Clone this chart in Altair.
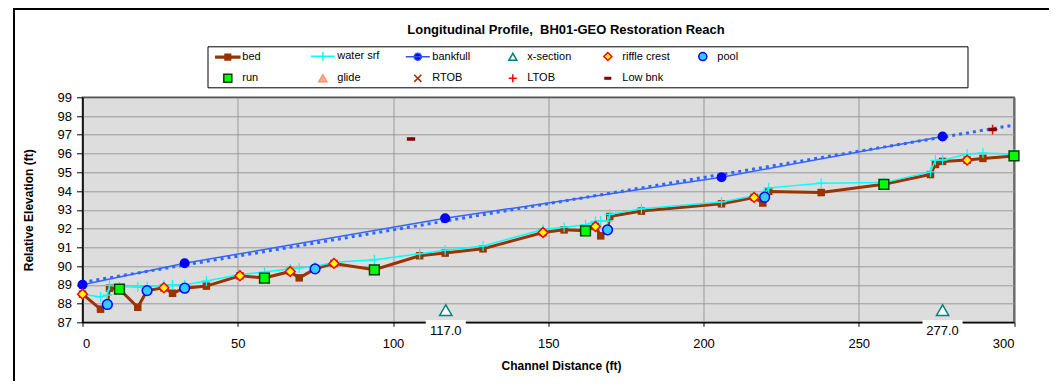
import altair as alt
import pandas as pd

FONT = "Liberation Sans, Arial, Helvetica, sans-serif"
TITLE = "Longitudinal Profile,\u00a0 BH01-GEO Restoration Reach"

# ---- data ----
bed_x = [0, 5.8, 8.0, 8.7, 11.9, 17.8, 20.8, 26.2, 29.0, 32.9, 39.9, 50.7, 58.6, 66.9,
         69.8, 74.9, 81.0, 94.0, 108.6, 116.8, 129.0, 148.3, 155.1, 162.0, 165.2, 166.9,
         169.1, 169.8, 180.0, 205.8, 216.3, 219.1, 219.7, 221.0, 237.9, 258.1, 273.1,
         274.7, 277.0, 284.9, 290.0, 300.0]
bed_y = [88.5, 87.7, 87.95, 88.82, 88.77, 87.8, 88.69, 88.84, 88.55, 88.82, 88.93, 89.48,
         89.36, 89.71, 89.37, 89.85, 90.14, 89.8, 90.55, 90.69, 90.92, 91.79, 91.93, 91.88,
         92.11, 91.61, 91.93, 92.64, 92.93, 93.32, 93.66, 93.36, 93.67, 93.98, 93.92, 94.36,
         94.88, 95.42, 95.58, 95.65, 95.74, 95.87]

water_x = bed_x
water_y = [88.5, 88.35, 88.45, 88.97, 88.9, 88.88, 88.9, 88.98, 89.0, 89.0, 89.2, 89.55,
           89.68, 89.85, 89.9, 89.98, 90.2, 90.33, 90.66, 90.84, 91.07, 91.95, 92.07, 92.2,
           92.38, 92.4, 92.4, 92.76, 93.05, 93.42, 93.75, 93.8, 93.85, 94.17, 94.42, 94.45,
           95.02, 95.64, 95.65, 95.98, 96.03, 95.96]

bank_x = [0, 32.9, 116.8, 205.8, 277.0]
bank_y = [89.0, 90.15, 92.55, 94.74, 96.91]

xsec_x = [117.0, 277.0]
xsec_y = [87.65, 87.65]

riffle_x = [0, 26.2, 50.7, 66.9, 81.0, 148.3, 165.2, 216.3, 284.9]
riffle_y = [88.5, 88.84, 89.48, 89.71, 90.14, 91.79, 92.11, 93.66, 95.65]

pool_x = [8.0, 20.8, 32.9, 74.9, 169.1, 219.7]
pool_y = [87.95, 88.69, 88.82, 89.85, 91.93, 93.67]

run_x = [11.9, 58.6, 94.0, 162.0, 258.1, 300.0]
run_y = [88.77, 89.36, 89.8, 91.88, 94.36, 95.87]

ltob_x = [293.1]
ltob_y = [97.28]

lowbnk_x = [105.8, 293.1]
lowbnk_y = [96.78, 97.28]

x_ticks = [0, 50, 100, 150, 200, 250, 300]
y_ticks = list(range(87, 100))

# legend entries and their styles
LEG_DOMAIN = ["bed", "water srf", "bankfull", "x-section", "riffle crest", "pool",
              "run", "glide", "RTOB", "LTOB", "Low bnk"]
LEG_SHAPE = [
    "M-3,-0.2H3V0.2H-3Z M-0.7,-0.7H0.7V0.7H-0.7Z",
    "M-3,0H3 M0,-1.1V1.1",
    "M-3,0H3 M-0.9,0A0.9,0.9 0 1,1 0.9,0A0.9,0.9 0 1,1 -0.9,0Z",
    "triangle-up",
    "diamond",
    "circle",
    "square",
    "triangle-up",
    "M-0.9,-0.9L0.9,0.9M-0.9,0.9L0.9,-0.9",
    "M-1,0H1M0,-1V1",
    "M-0.7,-0.2H0.7V0.2H-0.7Z",
]
LEG_FILL = ["#993300", "#00FFFF", "#0000FF", "#FFFFFF", "#FFFF00", "#33CCFF",
            "#00FF00", "#FFB49C", "#993300", "#FF0000", "#800000"]
LEG_STROKE = ["#993300", "#00FFFF", "#3050F0", "#008080", "#FF0000", "#0000FF",
              "#004000", "#FF8F70", "#993300", "#FF0000", "#800000"]

# ---- tables ----
bed_df = pd.DataFrame({"x": bed_x, "elev": bed_y})
water_df = pd.DataFrame({"x": water_x, "elev": water_y})
bank_df = pd.DataFrame({"x": bank_x, "elev": bank_y})
xsec_df = pd.DataFrame({"x": xsec_x, "elev": xsec_y, "series": "x-section"})
feat_df = pd.concat([
    pd.DataFrame({"x": riffle_x, "elev": riffle_y, "series": "riffle crest"}),
    pd.DataFrame({"x": pool_x, "elev": pool_y, "series": "pool"}),
    pd.DataFrame({"x": run_x, "elev": run_y, "series": "run"}),
    pd.DataFrame({"x": ltob_x, "elev": ltob_y, "series": "LTOB"}),
    pd.DataFrame({"x": lowbnk_x, "elev": lowbnk_y, "series": "Low bnk"}),
], ignore_index=True)
deco = pd.DataFrame({"k": [0]})

W, H = 931.5, 225

x_grid_color = {"condition": [{"test": "datum.value == 0", "value": "black"},
                              {"test": "datum.value == 300", "value": "#555555"}],
                "value": "#9a9a9a"}
y_grid_color = {"condition": [{"test": "datum.value == 87", "value": "black"},
                              {"test": "datum.value == 99", "value": "#555555"}],
                "value": "#9a9a9a"}

X = alt.X("x:Q", scale=alt.Scale(domain=[0, 300], nice=False, zero=False),
          axis=alt.Axis(values=x_ticks, title="Channel Distance (ft)", grid=True,
                        gridColor=x_grid_color,
                        tickSize=4, tickColor="black", domainColor="black",
                        labelFont=FONT, labelFontSize=13, labelColor="black", labelPadding=11,
                        titleFont=FONT, titleFontSize=12, titleFontWeight="bold", titleColor="black",
                        titleX=478.5, titleY=43, titleAlign="center", titleBaseline="middle"))
Y = alt.Y("elev:Q", scale=alt.Scale(domain=[87, 99], nice=False, zero=False),
          axis=alt.Axis(values=y_ticks, format="d", title="Relative Elevation (ft)", grid=True,
                        gridColor=y_grid_color,
                        tickSize=6, tickColor="black", domainColor="black",
                        labelFont=FONT, labelFontSize=13, labelColor="black", labelPadding=5,
                        titleFont=FONT, titleFontSize=12, titleFontWeight="bold", titleColor="black",
                        titleX=-54.5, titleY=112.5, titleAngle=270, titleAlign="center",
                        titleBaseline="middle"))

LEG = alt.Legend(title=None, orient="none", legendX=139.8, legendY=-46.5,
                 direction="horizontal", columns=6, gridAlign="all",
                 columnPadding=17, rowPadding=7, padding=0, labelOffset=9,
                 symbolSize=64, symbolStrokeWidth=1.5, labelFont=FONT,
                 labelFontSize=11, labelColor="black", labelLimit=200)

def legend_enc():
    return dict(
        shape=alt.Shape("series:N", scale=alt.Scale(domain=LEG_DOMAIN, range=LEG_SHAPE), legend=LEG),
        fill=alt.Fill("series:N", scale=alt.Scale(domain=LEG_DOMAIN, range=LEG_FILL), legend=LEG),
        stroke=alt.Stroke("series:N", scale=alt.Scale(domain=LEG_DOMAIN, range=LEG_STROKE), legend=LEG),
    )

# ---- decorations (chart frame, legend box, title) ----
frame_top = alt.Chart(deco).mark_rule(color="black", strokeWidth=2).encode(
    x=alt.value(-69), x2=alt.value(W + 60), y=alt.value(-88.3))
frame_left = alt.Chart(deco).mark_rule(color="black", strokeWidth=2).encode(
    x=alt.value(-68.5), y=alt.value(-89.3), y2=alt.value(H + 70))
legend_box = alt.Chart(deco).mark_rect(fill="white", stroke="black", strokeWidth=1).encode(
    x=alt.value(125.5), x2=alt.value(885.5), y=alt.value(-50.5), y2=alt.value(-9.5))
title = alt.Chart(deco).mark_text(font=FONT, fontSize=13, fontWeight="bold", align="center",
                                  baseline="alphabetic", color="black").encode(
    x=alt.value(483.5), y=alt.value(-63.3), text=alt.value(TITLE))

# ---- data layers ----
bed_line = alt.Chart(bed_df).mark_line(color="#993300", strokeWidth=3).encode(x=X, y=Y)
bed_pts = alt.Chart(bed_df).mark_point(shape="square", filled=True, color="#993300",
                                       size=56, opacity=1).encode(x=X, y=Y)
water_line = alt.Chart(water_df).mark_line(color="#00FFFF", strokeWidth=1.5).encode(x=X, y=Y)
water_pts = alt.Chart(water_df).mark_point(shape="M-1,0H1M0,-1V1", filled=False,
                                           color="#00FFFF", strokeWidth=1.2, size=100,
                                           opacity=1).encode(x=X, y=Y)
bank_line = alt.Chart(bank_df).mark_line(color="#3366FF", strokeWidth=1.5).encode(x=X, y=Y)
bank_trend = alt.Chart(bank_df).transform_regression(
    "x", "elev", extent=[0, 300]).mark_line(color="#3366FF", strokeWidth=3,
                                            strokeDash=[3, 4]).encode(x=X, y=Y)
bank_pts = alt.Chart(bank_df).mark_point(shape="circle", filled=True, color="#0000FF",
                                         size=100, opacity=1).encode(x=X, y=Y)

features = alt.Chart(feat_df).mark_point(filled=True, size=95, strokeWidth=1.5, opacity=1).encode(
    x=X, y=Y, **legend_enc())
xsec = alt.Chart(xsec_df).mark_point(filled=True, size=150, strokeWidth=1.5, opacity=1).encode(
    x=X, y=Y, **legend_enc())
xsec_box = alt.Chart(xsec_df).mark_point(shape="M-1,-0.6H1V0.6H-1Z", size=1600, filled=True,
                                         color="white", opacity=1, strokeWidth=0,
                                         yOffset=22).encode(x=X, y=Y)
xsec_lbl = alt.Chart(xsec_df).mark_text(font=FONT, fontSize=13, color="black", dy=21,
                                        baseline="middle").encode(
    x=X, y=Y, text=alt.Text("x:Q", format=".1f"))

chart = alt.layer(
    frame_top, frame_left, legend_box, title,
    bed_line, bed_pts, water_line, water_pts,
    bank_line, bank_trend, bank_pts,
    features, xsec, xsec_box, xsec_lbl,
).properties(
    width=W, height=H, autosize="none", background="white",
    padding={"left": 74.5, "top": 89.3, "right": 35, "bottom": 59},
).configure_view(
    fill="#DDDDDD", stroke="#555555", strokeWidth=1.5,
)

chart.save("out.html", embed_options={"renderer": "svg", "actions": False})
